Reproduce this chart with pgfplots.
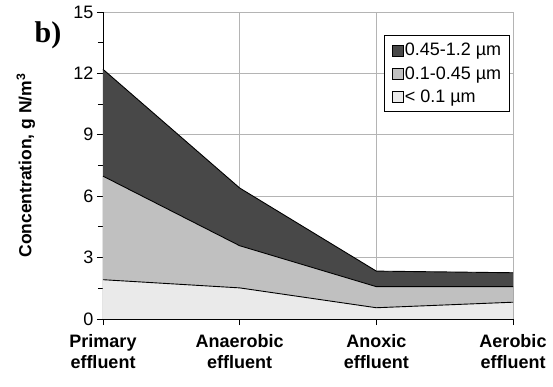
\documentclass[border=0pt]{standalone}
\usepackage{pgfplots}
\pgfplotsset{compat=1.18}
\usepackage{pgfplotstable}
\usepackage{fontspec}
\setmainfont{Liberation Sans}
\newfontfamily\serifb{Liberation Serif}
\definecolor{darkfill}{HTML}{484848}
\definecolor{midfill}{HTML}{C0C0C0}
\definecolor{lightfill}{HTML}{EAEAEA}
\definecolor{gridgray}{HTML}{B4B4B4}
\pgfplotstableread{
x a b c
0 1.92 5.06 5.22
1 1.52 2.06 2.82
2 0.55 1.03 0.76
3 0.82 0.76 0.68
}\data
\begin{document}
\begin{tikzpicture}
\useasboundingbox (-103pt,-68pt) rectangle (450pt,319pt);
\begin{axis}[
  at={(0pt,0pt)}, anchor=south west,
  scale only axis, width=410pt, height=307pt,
  xmin=0, xmax=3, ymin=0, ymax=15,
  axis lines=left, axis line style={-, black, line width=0.9pt},
  tick align=outside,
  xtick={0,1,2,3},
  xticklabels={Primary\\effluent, Anaerobic\\effluent, Anoxic\\effluent, Aerobic\\effluent},
  xticklabel style={font=\fontsize{18}{21}\selectfont\bfseries, align=center, yshift=-6pt},
  ytick={0,3,6,9,12,15},
  minor ytick={1.5,4.5,7.5,10.5,13.5},
  major tick length=6pt, minor tick length=5pt,
  tick style={black, line width=0.8pt},
  yticklabel style={font=\fontsize{18}{21}\selectfont},
  /pgf/number format/assume math mode=true,
  grid=major,
  major grid style={gridgray, line width=0.9pt},
  ylabel={Concentration, g N/m\textsuperscript{3}},
  ylabel style={font=\fontsize{17.5}{20}\selectfont\bfseries, at={(axis description cs:-0.188,0.5)}, anchor=center},
  clip=false,
  legend image code/.code={\draw[#1, draw=black, line width=0.6pt] (0pt,-5.5pt) rectangle (11pt,5.5pt);},
  legend style={at={(axis description cs:0.993,0.925)}, anchor=north east,
    font=\fontsize{18}{21}\selectfont, draw=black, line width=0.8pt,
    row sep=5pt, inner xsep=7pt, inner ysep=6pt,
    nodes={inner xsep=1.5pt}},
  legend cell align=left,
]
\addplot[fill=darkfill, draw=none] table[x=x, y expr=\thisrow{a}+\thisrow{b}+\thisrow{c}] {\data} \closedcycle;
\addlegendentry{0.45-1.2 µm}
\addplot[fill=midfill, draw=none] table[x=x, y expr=\thisrow{a}+\thisrow{b}] {\data} \closedcycle;
\addlegendentry{0.1-0.45 µm}
\addplot[fill=lightfill, draw=none] table[x=x, y=a] {\data} \closedcycle;
\addlegendentry{< 0.1 µm}
\addplot[black, line width=0.9pt, forget plot] table[x=x, y expr=\thisrow{a}+\thisrow{b}+\thisrow{c}] {\data};
\addplot[black, line width=0.9pt, forget plot] table[x=x, y expr=\thisrow{a}+\thisrow{b}] {\data};
\addplot[black, line width=0.9pt, forget plot] table[x=x, y=a] {\data};
\node[font=\serifb\fontsize{30}{32}\selectfont\bfseries] at (axis description cs:-0.134,0.925) {b)};
\end{axis}
\end{tikzpicture}
\end{document}
